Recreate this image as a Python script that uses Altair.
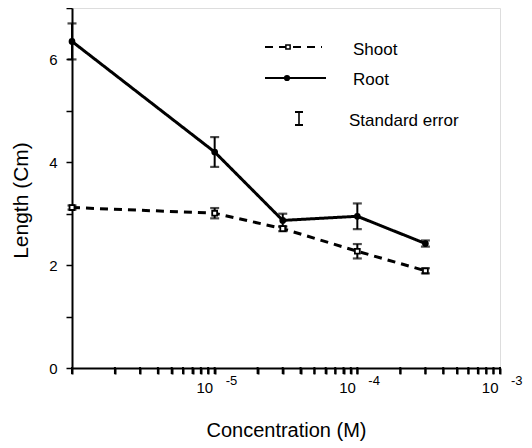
import altair as alt
import pandas as pd

# ---- data ----
conc = [1e-6, 1e-5, 3e-5, 1e-4, 3e-4]          # control plotted at the left edge
shoot = [3.12, 3.01, 2.71, 2.27, 1.89]
shoot_se = [0.04, 0.10, 0.05, 0.14, 0.05]
root = [6.35, 4.20, 2.87, 2.95, 2.42]
root_se = [0.35, 0.29, 0.13, 0.25, 0.06]

series_names = ["Shoot", "Root"]
decades = [1e-5, 1e-4, 1e-3]
exponents = ["-5", "-4", "-3"]

x_ticks = [1e-6, 2e-6, 3e-6, 4e-6, 5e-6, 6e-6, 7e-6, 8e-6, 9e-6,
           1e-5, 2e-5, 3e-5, 4e-5, 5e-5, 6e-5, 7e-5, 8e-5, 9e-5,
           1e-4, 2e-4, 3e-4, 4e-4, 5e-4, 6e-4, 7e-4, 8e-4, 9e-4, 1e-3]
y_ticks = [0, 1, 2, 3, 4, 5, 6, 7]

rows = []
for name, vals, ses in [("Shoot", shoot, shoot_se), ("Root", root, root_se)]:
    for c, v, s in zip(conc, vals, ses):
        rows.append({"series": name, "conc": c, "value": v, "lo": v - s, "hi": v + s})
df = pd.DataFrame(rows)

W, H = 428, 360
FONT = "Liberation Sans"

xscale = alt.Scale(type="log", domain=[1e-6, 1e-3], nice=False)
yscale = alt.Scale(domain=[0, 7], nice=False, zero=True)

xaxis = alt.Axis(
    values=x_ticks,
    labelExpr="(datum.value > 2e-6 && abs(log(datum.value)/log(10) - round(log(datum.value)/log(10))) < 1e-6) ? '10' : ''",
    title="Concentration (M)", titleFont=FONT, titleFontSize=20, titleFontWeight="normal",
    titleY=62, titleBaseline="middle",
    labelFont=FONT, labelFontSize=15, labelAlign="right", labelOffset=-2, labelPadding=6,
    labelOverlap=False, labelFlush=False, ticks=True,
    tickSize=6, tickWidth=2, tickColor="black", domainColor="black", domainWidth=2,
    grid=False, labelColor="black", titleColor="black",
)
yaxis = alt.Axis(
    values=y_ticks,
    labelExpr="datum.value % 2 == 0 ? datum.value : ''",
    title="Length (Cm)", titleFont=FONT, titleFontSize=21, titleFontWeight="normal",
    titleX=-51, titleY=192, titleBaseline="middle", titleAngle=-90,
    labelFont=FONT, labelFontSize=15, labelPadding=9,
    tickSize=6, tickWidth=1.5, tickColor="black", domainColor="black", domainWidth=2,
    grid=False, labelColor="black", titleColor="black",
)

dash_scale = alt.Scale(domain=series_names, range=[[8, 6], [1, 0]])
base = alt.Chart(df)

lines = base.mark_line(color="black", strokeWidth=3).encode(
    x=alt.X("conc:Q", scale=xscale, axis=xaxis),
    y=alt.Y("value:Q", scale=yscale, axis=yaxis),
    strokeDash=alt.StrokeDash("series:N", scale=dash_scale, legend=None),
    detail="series:N",
    order="conc:Q",
)

# explicit x tick marks (log minor ticks) below the axis
xt_df = pd.DataFrame({"conc": x_ticks})
xtick_marks = alt.Chart(xt_df).mark_rule(color="black", strokeWidth=2, clip=False).encode(
    x="conc:Q", y=alt.value(H - 1), y2=alt.value(H + 6)
)

err = base.mark_rule(color="black", strokeWidth=2).encode(
    x="conc:Q", y="lo:Q", y2="hi:Q"
)
cap_lo = base.mark_tick(orient="horizontal", size=9, thickness=2.2, color="black").encode(
    x="conc:Q", y="lo:Q"
)
cap_hi = base.mark_tick(orient="horizontal", size=9, thickness=2.2, color="black").encode(
    x="conc:Q", y="hi:Q"
)

pts = base.mark_point(size=24, strokeWidth=1.8, color="black", opacity=1).encode(
    x="conc:Q", y="value:Q",
    shape=alt.Shape("series:N", scale=alt.Scale(domain=series_names, range=["square", "circle"]), legend=None),
    fill=alt.Fill("series:N", scale=alt.Scale(domain=series_names, range=["white", "black"]), legend=None),
)

# exponent labels for the decade ticks
exp_df = pd.DataFrame({"conc": decades, "exp": exponents})
exp_text = alt.Chart(exp_df).mark_text(
    font=FONT, fontSize=13, align="left", baseline="alphabetic", dx=11, color="black"
).encode(x="conc:Q", y=alt.value(H + 17), text="exp:N")

# manual legend
one = pd.DataFrame({"k": [0]})
leg = alt.Chart(one)
leg_shoot_line = leg.mark_rule(color="black", strokeWidth=2, strokeDash=[8, 6]).encode(
    x=alt.value(193), x2=alt.value(250), y=alt.value(39))
leg_shoot_pt = leg.mark_point(shape="square", size=18, fill="white", color="black", strokeWidth=1.5, opacity=1).encode(
    x=alt.value(216), y=alt.value(39))
leg_root_line = leg.mark_rule(color="black", strokeWidth=2).encode(
    x=alt.value(193), x2=alt.value(254), y=alt.value(70))
leg_root_pt = leg.mark_point(shape="circle", size=18, fill="black", color="black", opacity=1).encode(
    x=alt.value(215), y=alt.value(70))
leg_se_bar = leg.mark_rule(color="black", strokeWidth=1.6).encode(
    x=alt.value(227), y=alt.value(104), y2=alt.value(117))
leg_se_cap1 = leg.mark_rule(color="black", strokeWidth=2).encode(
    x=alt.value(223), x2=alt.value(231), y=alt.value(104))
leg_se_cap2 = leg.mark_rule(color="black", strokeWidth=2).encode(
    x=alt.value(223), x2=alt.value(231), y=alt.value(117))

leg_text_df = pd.DataFrame({"label": ["Shoot", "Root", "Standard error"]})
leg_texts = []
for lab, xx, yy in [("Shoot", 281, 42), ("Root", 281, 72), ("Standard error", 277, 113)]:
    leg_texts.append(
        alt.Chart(leg_text_df[leg_text_df["label"] == lab]).mark_text(
            font=FONT, fontSize=17, align="left", baseline="middle", color="black"
        ).encode(x=alt.value(xx), y=alt.value(yy), text="label:N")
    )

chart = alt.layer(
    lines, xtick_marks, err, cap_lo, cap_hi, pts, exp_text,
    leg_shoot_line, leg_shoot_pt, leg_root_line, leg_root_pt,
    leg_se_bar, leg_se_cap1, leg_se_cap2, *leg_texts,
).properties(
    width=W, height=H,
    autosize=alt.AutoSizeParams(type="none"),
    padding={"left": 64, "top": 0, "right": 24, "bottom": 78},
).configure_view(
    stroke="black", strokeWidth=1.5
).configure(background="white")

chart.save("out.html", embed_options={"renderer": "svg", "actions": False})
